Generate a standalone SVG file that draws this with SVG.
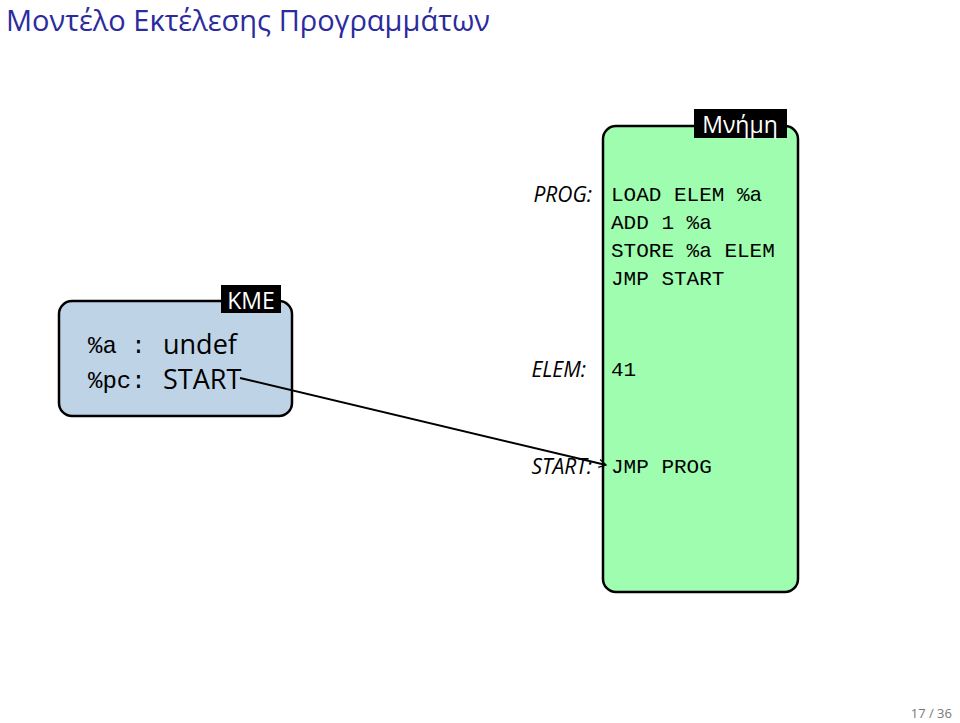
<svg xmlns="http://www.w3.org/2000/svg" width="960" height="723" viewBox="0 0 960 723">
<style>
.s{font-family:"Open Sans","Noto Sans",sans-serif}
.m{font-family:"Liberation Mono","DejaVu Sans Mono",monospace;font-size:21px}
.l{font-family:"Open Sans","Noto Sans",sans-serif;font-style:italic;font-size:21px;text-anchor:end}
</style>
<defs><marker id="ah" markerWidth="10" markerHeight="10" refX="8" refY="5" orient="auto" markerUnits="userSpaceOnUse"><path d="M1,1 L8,5 L1,9" fill="none" stroke="#000" stroke-width="1.3"/></marker></defs>
<rect width="960" height="723" fill="#fff"/>
<text x="6" y="31" class="s" font-size="29" fill="#2b2b9e">Μοντέλο Εκτέλεσης Προγραμμάτων</text>
<g id="kme">
<rect x="59" y="301" width="233" height="115" rx="13" fill="#bfd3e6" stroke="#000" stroke-width="2.5"/>
<rect x="221" y="285" width="60" height="28" fill="#000"/>
<text x="251" y="309" class="s" font-size="23" fill="#fff" text-anchor="middle">KME</text>
<text x="88" y="353" class="m" font-size="24" style="font-size:24px">%a :</text>
<text x="163" y="354" class="s" font-size="27">undef</text>
<text x="88" y="388" class="m" style="font-size:24px">%pc:</text>
<text x="163" y="389" class="s" font-size="27">START</text>
</g>
<g id="mem">
<rect x="603" y="126" width="195" height="466" rx="13" fill="#9ffdb0" stroke="#000" stroke-width="2.5"/>
<rect x="694" y="109" width="93" height="29" fill="#000"/>
<text x="740" y="133" class="s" font-size="23" fill="#fff" text-anchor="middle">Μνήμη</text>
<text x="611" y="201" class="m">LOAD ELEM %a</text>
<text x="611" y="229" class="m">ADD 1 %a</text>
<text x="611" y="257" class="m">STORE %a ELEM</text>
<text x="611" y="285" class="m">JMP START</text>
<text x="611" y="376" class="m">41</text>
<text x="611" y="473" class="m">JMP PROG</text>
<text x="592" y="202" class="l">PROG:</text>
<text x="586" y="377" class="l">ELEM:</text>
<text x="592" y="474" class="l">START:</text>
</g>
<g id="connectors">
<path d="M240,378 L606,465" fill="none" stroke="#000" stroke-width="2" marker-end="url(#ah)"/>
</g>
<text x="952" y="718" class="s" font-size="13" fill="#777" text-anchor="end">17 / 36</text>
</svg>
